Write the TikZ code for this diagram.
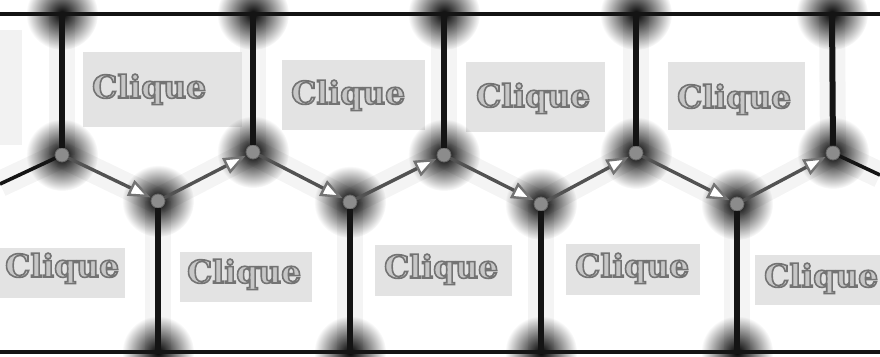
\documentclass[tikz,border=0pt]{standalone}
\usepackage{fontspec}
\usetikzlibrary{arrows.meta,fadings}
\newfontfamily\cliquefont{DejaVu Serif}
\tikzfading[name=halo, inner color=transparent!0, outer color=transparent!100]
\tikzset{
  vertex/.style={circle, fill=black!45, draw=black!60, line width=0.8pt, minimum size=14pt, inner sep=0pt},
  wall/.style={line width=6pt, draw=black!92},
  rail/.style={line width=3.6pt, draw=black!92},
  flow/.style={line width=3.4pt, draw=black!68, shorten >=1pt,
    -{Triangle[length=22pt, width=17pt, line width=2.4pt, fill=white, color=black!55]}},
  glow/.style={fill=black, path fading=halo},
  shadewall/.style={line width=26pt, draw=black, opacity=0.045},
  cellbg/.style={fill=black!11},
  label/.style={anchor=base west, inner sep=0pt, text=black!22,
    font=\cliquefont\bfseries\fontsize{31.5}{31.5}\selectfont}
}
\newcommand{\cliq}{\special{pdf:literal direct 2 Tr 1.6 w 0.45 G}Clique\special{pdf:literal direct 0 Tr}}
\begin{document}
\begin{tikzpicture}[x=1pt,y=-1pt]
\useasboundingbox (0,0) rectangle (880,356);
\fill[white] (0,0) rectangle (880,356);
% coordinates
\coordinate (tl) at (0,14); \coordinate (tr) at (880,14);
\coordinate (bl) at (0,352); \coordinate (br) at (880,352);
\coordinate (le) at (0,184); \coordinate (re) at (880,175);
\coordinate (t1) at (62,14); \coordinate (t2) at (253,14); \coordinate (t3) at (444,14);
\coordinate (t4) at (636,14); \coordinate (t5) at (832,14);
\coordinate (b1) at (158,352); \coordinate (b2) at (350,352); \coordinate (b3) at (541,352);
\coordinate (b4) at (737,352);
\coordinate (p1) at (62,155); \coordinate (p2) at (253,152); \coordinate (p3) at (444,155);
\coordinate (p4) at (636,153); \coordinate (p5) at (833,153);
\coordinate (q1) at (158,201); \coordinate (q2) at (350,202); \coordinate (q3) at (541,204);
\coordinate (q4) at (737,204);
% soft shading along walls
\foreach \a/\b in {t1/p1,t2/p2,t3/p3,t4/p4,t5/p5,q1/b1,q2/b2,q3/b3,q4/b4,
  le/p1,p1/q1,q1/p2,p2/q2,q2/p3,p3/q3,q3/p4,p4/q4,q4/p5,p5/re}
  \draw[shadewall] (\a) -- (\b);
\fill[black, opacity=0.05] (0,30) rectangle (22,145);
% label backgrounds
\fill[cellbg] (83,52) rectangle (242,127);
\fill[cellbg] (282,60) rectangle (425,130);
\fill[cellbg] (466,62) rectangle (605,132);
\fill[cellbg] (668,62) rectangle (805,130);
\fill[cellbg] (0,248) rectangle (125,298);
\fill[cellbg] (180,252) rectangle (312,302);
\fill[cellbg] (375,245) rectangle (512,296);
\fill[cellbg] (566,244) rectangle (700,295);
\fill[cellbg] (755,255) rectangle (880,305);
% halos
\foreach \c in {t1,t2,t3,t4,t5,b1,b2,b3,b4,p1,p2,p3,p4,p5,q1,q2,q3,q4}
  \fill[glow] (\c) circle (36pt);
% vertices
\node[vertex] (u1) at (p1) {}; \node[vertex] (u2) at (p2) {};
\node[vertex] (u3) at (p3) {}; \node[vertex] (u4) at (p4) {};
\node[vertex] (u5) at (p5) {};
\node[vertex] (l1) at (q1) {}; \node[vertex] (l2) at (q2) {};
\node[vertex] (l3) at (q3) {}; \node[vertex] (l4) at (q4) {};
% rails and walls
\draw[rail] (tl) -- (tr);
\draw[rail] (bl) -- (br);
\draw[wall] (t1) -- (u1); \draw[wall] (t2) -- (u2); \draw[wall] (t3) -- (u3);
\draw[wall] (t4) -- (u4); \draw[wall] (t5) -- (u5);
\draw[wall] (l1) -- (b1); \draw[wall] (l2) -- (b2); \draw[wall] (l3) -- (b3);
\draw[wall] (l4) -- (b4);
\draw[rail] (le) -- (u1);
\draw[rail] (u5) -- (re);
% zigzag flow
\draw[flow] (u1) -- (l1); \draw[flow] (l1) -- (u2);
\draw[flow] (u2) -- (l2); \draw[flow] (l2) -- (u3);
\draw[flow] (u3) -- (l3); \draw[flow] (l3) -- (u4);
\draw[flow] (u4) -- (l4); \draw[flow] (l4) -- (u5);
% labels
\node[label] (c1) at (92,98) {\cliq};
\node[label] (c2) at (291,104) {\cliq};
\node[label] (c3) at (476,107) {\cliq};
\node[label] (c4) at (677,108) {\cliq};
\node[label] (c5) at (5,277) {\cliq};
\node[label] (c6) at (187,283) {\cliq};
\node[label] (c7) at (384,278) {\cliq};
\node[label] (c8) at (575,277) {\cliq};
\node[label] (c9) at (764,287) {\cliq};
\end{tikzpicture}
\end{document}
